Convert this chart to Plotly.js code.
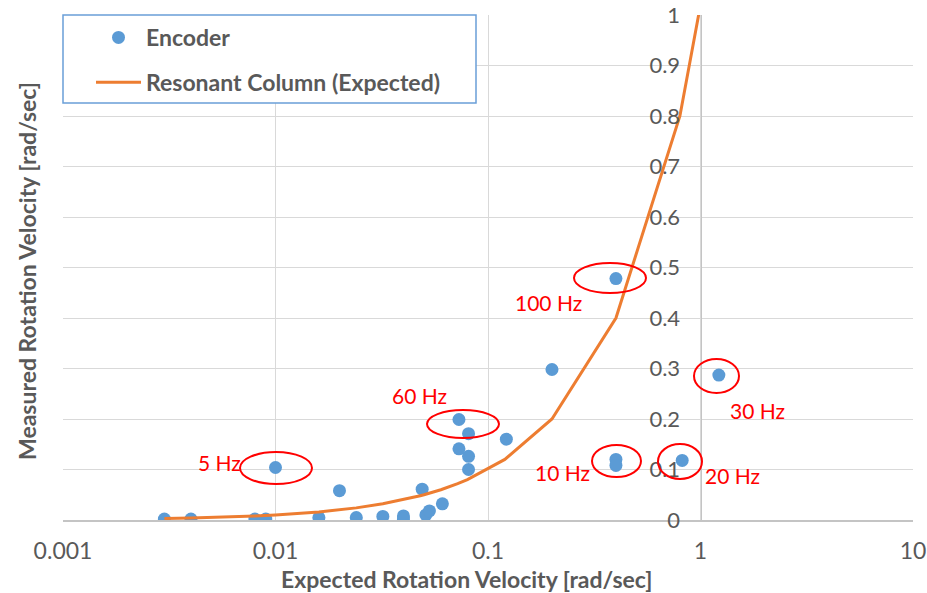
<!DOCTYPE html>
<html>
<head>
<meta charset="utf-8">
<script src="https://cdn.plot.ly/plotly-3.0.1.min.js"></script>
<style>
html,body{margin:0;padding:0;background:#fff;}
#chart{width:927px;height:593px;}
</style>
</head>
<body>
<div id="chart"></div>
<script>
// ---- data ----
const encoderX = [0.003, 0.004, 0.008, 0.009, 0.01, 0.016, 0.02, 0.024, 0.032, 0.04, 0.04, 0.049, 0.051, 0.053, 0.061, 0.073, 0.073, 0.081, 0.081, 0.081, 0.122, 0.2, 0.4, 0.4, 0.4, 0.82, 1.22];
const encoderY = [0.002, 0.002, 0.002, 0.002, 0.104, 0.005, 0.058, 0.005, 0.007, 0.008, 0.002, 0.061, 0.010, 0.018, 0.032, 0.199, 0.141, 0.171, 0.126, 0.100, 0.160, 0.298, 0.478, 0.120, 0.108, 0.118, 0.287];
const expectedX = [0.003, 0.004, 0.008, 0.009, 0.01, 0.016, 0.02, 0.024, 0.032, 0.04, 0.048, 0.05, 0.06, 0.072, 0.08, 0.12, 0.2, 0.4, 0.8, 1.2];
const expectedY = [0.003, 0.004, 0.008, 0.009, 0.01, 0.016, 0.02, 0.024, 0.032, 0.04, 0.048, 0.05, 0.06, 0.072, 0.08, 0.12, 0.2, 0.4, 0.8, 1.2];
const xTickVals = [0.001, 0.01, 0.1, 1, 10];
const xTickText = ["0.001", "0.01", "0.1", "1", "10"];
const yTickVals = [0, 0.1, 0.2, 0.3, 0.4, 0.5, 0.6, 0.7, 0.8, 0.9, 1];
const yTickText = ["0", "0.1", "0.2", "0.3", "0.4", "0.5", "0.6", "0.7", "0.8", "0.9", "1"];
const freqLabels = ["5 Hz", "60 Hz", "100 Hz", "10 Hz", "20 Hz", "30 Hz"];
const seriesNames = ["Encoder", "Resonant Column (Expected)"];
const xTitle = "Expected Rotation Velocity [rad/sec]";
const yTitle = "Measured Rotation Velocity [rad/sec]";

// ---- layout geometry (pixels of the plot area) ----
const L = 63, T = 15, W = 850, H = 505, B = T + H;
const px = x => (x - L) / W;
const py = y => (B - y) / H;

const FONT = "Lato, 'Open Sans', sans-serif";
const GRAY = "#595959";
const RED = "#ff0000";

// label positions (pixel centres) and ellipses (pixel boxes)
const labelPos = [[219, 462], [419, 395], [548, 302], [562, 472], [732, 475], [757, 410]];
const ellipses = [[240, 452, 312, 484], [427, 410, 499, 438], [574, 263, 646, 293], [592, 445, 641, 477], [658, 444, 702, 479], [694, 359, 739, 393]];

const traces = [
  {
    x: encoderX, y: encoderY, type: "scatter", mode: "markers",
    name: seriesNames[0], legendgroup: "a",
    marker: {color: "#5b9bd5", size: 13}
  },
  {
    x: expectedX, y: expectedY, type: "scatter", mode: "lines",
    name: seriesNames[1], legendgroup: "b",
    line: {color: "#ed7d31", width: 3}
  }
];

const shapes = [
  {type: "rect", xref: "paper", yref: "paper", x0: px(63), x1: px(476), y0: py(103), y1: py(15),
   line: {color: "#6a9fd8", width: 1.5}, fillcolor: "#ffffff", layer: "above"}
];
ellipses.forEach(e => shapes.push({
  type: "circle", xref: "paper", yref: "paper",
  x0: px(e[0]), x1: px(e[2]), y0: py(e[3]), y1: py(e[1]),
  line: {color: RED, width: 2}, layer: "above"
}));

const annotations = freqLabels.map((t, i) => ({
  text: t, xref: "paper", yref: "paper", x: px(labelPos[i][0]), y: py(labelPos[i][1]),
  xanchor: "center", yanchor: "middle", showarrow: false,
  font: {family: FONT, size: 21, color: RED}
}));
annotations.push({
  text: "<b>" + xTitle + "</b>", xref: "paper", yref: "paper", x: px(466), y: py(579),
  xanchor: "center", yanchor: "middle", showarrow: false,
  font: {family: FONT, size: 23, color: GRAY}
});
annotations.push({
  text: "<b>" + yTitle + "</b>", xref: "paper", yref: "paper", x: px(27), y: py(271),
  xanchor: "center", yanchor: "middle", showarrow: false, textangle: -90,
  font: {family: FONT, size: 23, color: GRAY}
});

const layout = {
  width: 927, height: 593,
  margin: {l: L, r: 927 - L - W, t: T, b: 593 - B},
  paper_bgcolor: "#ffffff", plot_bgcolor: "#ffffff",
  showlegend: true,
  legend: {
    x: px(91), y: py(16), xanchor: "left", yanchor: "top",
    bgcolor: "rgba(0,0,0,0)", borderwidth: 0,
    traceorder: "grouped", tracegroupgap: 12, itemwidth: 45,
    font: {family: FONT, size: 23, color: GRAY, weight: "bold"}
  },
  xaxis: {
    type: "log", range: [-3, 1], domain: [0, 1],
    tickvals: xTickVals, ticktext: xTickText,
    showgrid: true, gridcolor: "#d9d9d9", gridwidth: 1,
    showline: true, linecolor: "#c4c4c4", linewidth: 1.5,
    ticks: "", ticklabelstandoff: 10, ticklabeloverflow: "allow",
    tickfont: {family: FONT, size: 23, color: GRAY},
    zeroline: false, fixedrange: true
  },
  yaxis: {
    range: [0, 1], anchor: "free", position: 0.75, side: "left",
    tickvals: yTickVals, ticktext: yTickText,
    showgrid: true, gridcolor: "#d9d9d9", gridwidth: 1,
    showline: true, linecolor: "#c4c4c4", linewidth: 1.5,
    ticks: "", ticklabelstandoff: 16, ticklabeloverflow: "allow",
    tickfont: {family: FONT, size: 22, color: GRAY},
    zeroline: false, fixedrange: true
  },
  shapes: shapes,
  annotations: annotations
};

Plotly.newPlot("chart", traces, layout, {displayModeBar: false, staticPlot: true});
</script>
</body>
</html>
